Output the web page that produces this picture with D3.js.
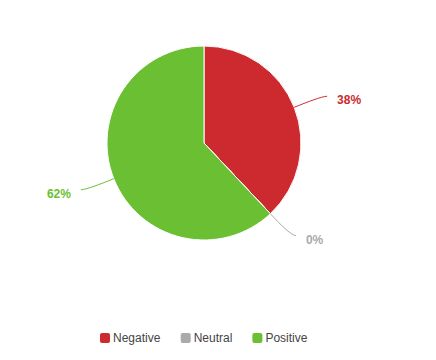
<!DOCTYPE html>
<html>
<head>
<meta charset="utf-8">
<script src="https://cdn.jsdelivr.net/npm/d3@7/dist/d3.min.js"></script>
<style>
  html, body { margin: 0; padding: 0; background: #ffffff; }
  svg { display: block; }
</style>
</head>
<body>
<svg id="chart" width="436" height="360"></svg>
<script>
const categories = ["Negative", "Neutral", "Positive"];
const values = [38, 0, 62];
const colors = ["#cc2a2f", "#aaaaaa", "#6abf32"];

const W = 436, H = 360;
const cx = 204, cy = 143, R = 97;
const labelDistance = 30, connectorPadding = 5;

const svg = d3.select("#chart");
const data = categories.map((c, i) => ({ name: c, value: values[i], color: colors[i] }));
const total = d3.sum(values);

const pie = d3.pie().sort(null).value(d => d.value);
const arcs = pie(data);
const arcGen = d3.arc().innerRadius(0).outerRadius(R);

const g = svg.append("g").attr("transform", `translate(${cx},${cy})`);

g.selectAll("path.slice")
  .data(arcs)
  .enter().append("path")
  .attr("class", "slice")
  .attr("d", arcGen)
  .attr("fill", d => d.data.color)
  .attr("stroke", "#ffffff")
  .attr("stroke-width", 1)
  .attr("stroke-linejoin", "round");

// labels with soft connectors
arcs.forEach(a => {
  const mid = (a.startAngle + a.endAngle) / 2;
  const sx = Math.sin(mid), sy = -Math.cos(mid);
  const right = sx >= 0;
  const touch = { x: sx * R, y: sy * R };
  const brk = { x: sx * (R + labelDistance / 5), y: sy * (R + labelDistance / 5) };
  const nat = { x: sx * (R + labelDistance), y: sy * (R + labelDistance) };
  const end = { x: nat.x + (right ? connectorPadding : -connectorPadding), y: nat.y };
  const p = d3.path();
  p.moveTo(end.x, end.y);
  p.bezierCurveTo(end.x + (right ? -5 : 5), end.y,
                  2 * brk.x - touch.x, 2 * brk.y - touch.y,
                  brk.x, brk.y);
  p.lineTo(touch.x, touch.y);
  g.append("path")
    .attr("d", p.toString())
    .attr("fill", "none")
    .attr("stroke", a.data.color)
    .attr("stroke-width", 1);
  const pct = Math.round(a.data.value / total * 100) + "%";
  g.append("text")
    .attr("x", end.x + (right ? 10 : -10))
    .attr("y", end.y + 8)
    .attr("text-anchor", right ? "start" : "end")
    .attr("font-family", "Liberation Sans, Arial, sans-serif")
    .attr("font-size", 12)
    .attr("font-weight", "bold")
    .attr("fill", a.data.color)
    .attr("stroke", "#ffffff")
    .attr("stroke-width", 2)
    .attr("stroke-linejoin", "round")
    .attr("paint-order", "stroke")
    .text(pct);
});

// legend
const legend = svg.append("g").attr("class", "legend");
const items = legend.selectAll("g.item").data(data).enter().append("g").attr("class", "item");
items.append("rect")
  .attr("width", 10).attr("height", 10).attr("rx", 2).attr("ry", 2)
  .attr("y", -9)
  .attr("fill", d => d.color);
items.append("text")
  .attr("x", 13)
  .attr("y", 0)
  .attr("font-family", "Liberation Sans, Arial, sans-serif")
  .attr("font-size", 12)
  .attr("fill", "#444444")
  .text(d => d.name);
const widths = [];
items.each(function () {
  widths.push(this.getBBox().width);
});
const gap = 20;
let x0 = 100;
items.attr("transform", (d, i) => {
  const t = `translate(${x0},342)`;
  x0 += widths[i] + gap;
  return t;
});
</script>
</body>
</html>
